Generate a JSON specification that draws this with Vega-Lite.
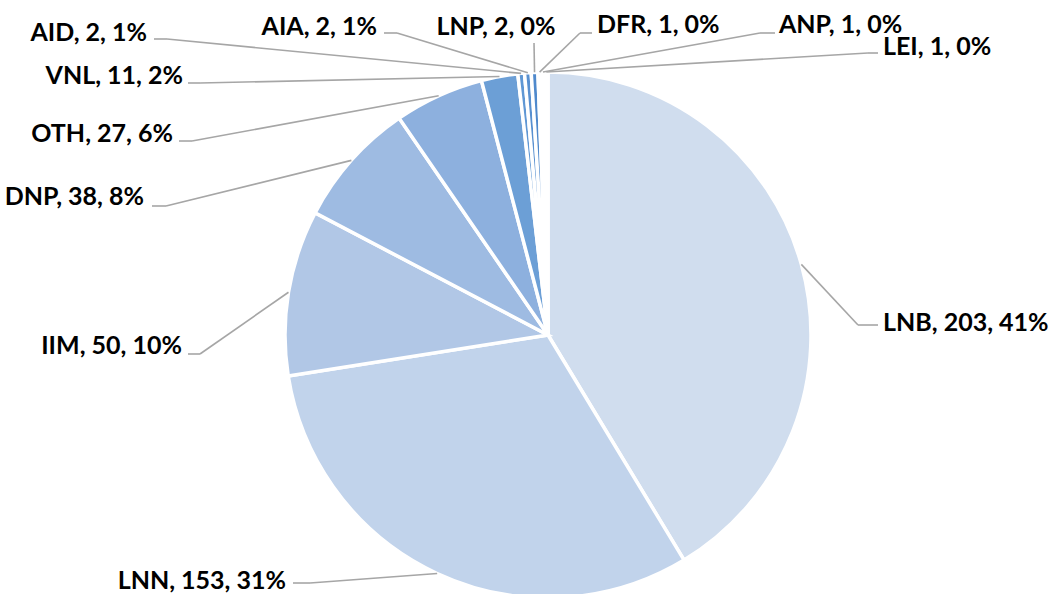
{
  "$schema": "https://vega.github.io/schema/vega-lite/v6.json",
  "width": 1026,
  "height": 518,
  "autosize": "none",
  "padding": {"left": 35, "top": 76, "right": 0, "bottom": 0},
  "background": "white",
  "config": {"view": {"stroke": null}},
  "data": {
    "values": [
      {"cat": "LNB", "n": 203, "pct": "41%"},
      {"cat": "LNN", "n": 153, "pct": "31%"},
      {"cat": "IIM", "n": 50, "pct": "10%"},
      {"cat": "DNP", "n": 38, "pct": "8%"},
      {"cat": "OTH", "n": 27, "pct": "6%"},
      {"cat": "VNL", "n": 11, "pct": "2%"},
      {"cat": "AID", "n": 2, "pct": "1%"},
      {"cat": "AIA", "n": 2, "pct": "1%"},
      {"cat": "LNP", "n": 2, "pct": "0%"},
      {"cat": "DFR", "n": 1, "pct": "0%"},
      {"cat": "ANP", "n": 1, "pct": "0%"},
      {"cat": "LEI", "n": 1, "pct": "0%"}
    ]
  },
  "transform": [
    {"window": [{"op": "row_number", "as": "ord"}, {"op": "sum", "field": "n", "as": "cum"}], "frame": [null, 0]},
    {"joinaggregate": [{"op": "sum", "field": "n", "as": "total"}]},
    {"calculate": "2*PI*(datum.cum - datum.n/2)/datum.total", "as": "mid"},
    {"calculate": "sin(datum.mid)", "as": "sx"},
    {"calculate": "cos(datum.mid)", "as": "sy"},
    {"calculate": "[1.1787,-0.9049,-1.3232,-1.4525,-1.3536,-1.3232,-1.4487,-0.5741,-0.0532,0.1217,0.8061,1.2167][datum.ord-1]", "as": "ex"},
    {"calculate": "[0.0380,-0.9430,-0.0722,0.4905,0.7376,0.9582,1.1255,1.1483,1.1103,1.1483,1.1483,1.0722][datum.ord-1]", "as": "ey"},
    {"calculate": "[1.2548,-0.9696,-1.3688,-1.5057,-1.4030,-1.3688,-1.4981,-0.6236,-0.0532,0.1673,0.8631,1.2548][datum.ord-1]", "as": "endx"},
    {"calculate": "[1.2738,-0.9962,-1.3916,-1.5361,-1.4259,-1.3878,-1.5247,-0.6502,-0.1977,0.1863,0.8783,1.2738][datum.ord-1]", "as": "tx"},
    {"calculate": "[0.0456,-0.9354,-0.0418,0.5247,0.7643,0.9848,1.1483,1.1711,1.1711,1.1787,1.1787,1.0951][datum.ord-1]", "as": "ty"},
    {"calculate": "['left','right','right','right','right','right','right','right','center','left','left','left'][datum.ord-1]", "as": "al"},
    {"calculate": "datum.cat + ', ' + datum.n + ', ' + datum.pct", "as": "label"}
  ],
  "layer": [
    {
      "mark": {"type": "arc", "outerRadius": 263, "stroke": "white", "strokeWidth": 3.5},
      "encoding": {
        "theta": {"field": "n", "type": "quantitative", "stack": true},
        "order": {"field": "ord", "type": "quantitative"},
        "color": {
          "field": "cat", "type": "nominal", "legend": null,
          "scale": {
            "domain": ["LNB","LNN","IIM","DNP","OTH","VNL","AID","AIA","LNP","DFR","ANP","LEI"],
            "range": ["#d0ddee","#c1d3eb","#b1c7e6","#9ebbe2","#8db0de","#6c9fd6","#5f97d4","#5890d0","#4f89cc","#4a84c8","#4680c4","#427bc0"]
          }
        }
      }
    },
    {
      "mark": {"type": "rule", "color": "#a6a6a6", "strokeWidth": 1.6},
      "encoding": {
        "x": {"field": "sx", "type": "quantitative", "scale": {"domain": [-1.95057, 1.95057], "nice": false, "zero": false}, "axis": null},
        "y": {"field": "sy", "type": "quantitative", "scale": {"domain": [-0.98479, 0.98479], "nice": false, "zero": false}, "axis": null},
        "x2": {"field": "ex"},
        "y2": {"field": "ey"}
      }
    },
    {
      "mark": {"type": "rule", "color": "#a6a6a6", "strokeWidth": 1.6},
      "encoding": {
        "x": {"field": "ex", "type": "quantitative", "scale": {"domain": [-1.95057, 1.95057], "nice": false, "zero": false}, "axis": null},
        "y": {"field": "ey", "type": "quantitative", "scale": {"domain": [-0.98479, 0.98479], "nice": false, "zero": false}, "axis": null},
        "x2": {"field": "endx"},
        "y2": {"field": "ey"}
      }
    },
    {
      "transform": [{"filter": "datum.al === 'left'"}],
      "mark": {"type": "text", "align": "left", "baseline": "middle", "font": "Lato", "fontWeight": "bold", "fontSize": 25, "color": "#000000"},
      "encoding": {
        "x": {"field": "tx", "type": "quantitative", "scale": {"domain": [-1.95057, 1.95057], "nice": false, "zero": false}, "axis": null},
        "y": {"field": "ty", "type": "quantitative", "scale": {"domain": [-0.98479, 0.98479], "nice": false, "zero": false}, "axis": null},
        "text": {"field": "label"}
      }
    },
    {
      "transform": [{"filter": "datum.al === 'right'"}],
      "mark": {"type": "text", "align": "right", "baseline": "middle", "font": "Lato", "fontWeight": "bold", "fontSize": 25, "color": "#000000"},
      "encoding": {
        "x": {"field": "tx", "type": "quantitative", "scale": {"domain": [-1.95057, 1.95057], "nice": false, "zero": false}, "axis": null},
        "y": {"field": "ty", "type": "quantitative", "scale": {"domain": [-0.98479, 0.98479], "nice": false, "zero": false}, "axis": null},
        "text": {"field": "label"}
      }
    },
    {
      "transform": [{"filter": "datum.al === 'center'"}],
      "mark": {"type": "text", "align": "center", "baseline": "middle", "font": "Lato", "fontWeight": "bold", "fontSize": 25, "color": "#000000"},
      "encoding": {
        "x": {"field": "tx", "type": "quantitative", "scale": {"domain": [-1.95057, 1.95057], "nice": false, "zero": false}, "axis": null},
        "y": {"field": "ty", "type": "quantitative", "scale": {"domain": [-0.98479, 0.98479], "nice": false, "zero": false}, "axis": null},
        "text": {"field": "label"}
      }
    }
  ]
}
